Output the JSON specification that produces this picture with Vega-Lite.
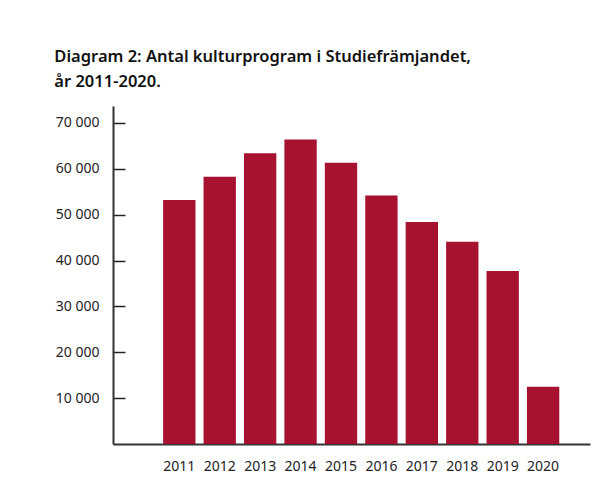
{
  "$schema": "https://vega.github.io/schema/vega-lite/v6.json",
  "width": 477,
  "height": 338,
  "padding": {"left": 54, "top": 48, "right": 23, "bottom": 10},
  "background": "white",
  "title": {
    "text": ["Diagram 2: Antal kulturprogram i Studiefrämjandet,", "år 2011-2020."],
    "anchor": "start",
    "frame": "bounds",
    "dx": -1,
    "font": "Noto Sans",
    "fontSize": 16.5,
    "fontWeight": 600,
    "color": "#111111",
    "lineHeight": 25,
    "offset": 16
  },
  "data": {
    "values": [
      {"year": "2011", "count": 53200},
      {"year": "2012", "count": 58300},
      {"year": "2013", "count": 63400},
      {"year": "2014", "count": 66400},
      {"year": "2015", "count": 61300},
      {"year": "2016", "count": 54200},
      {"year": "2017", "count": 48400},
      {"year": "2018", "count": 44100},
      {"year": "2019", "count": 37700},
      {"year": "2020", "count": 12500}
    ]
  },
  "mark": {"type": "bar", "color": "#A61230"},
  "encoding": {
    "x": {
      "field": "year",
      "type": "ordinal",
      "scale": {"paddingInner": 0.2, "paddingOuter": 1.08, "align": 0.62},
      "axis": {
        "title": null,
        "labelAngle": 0,
        "ticks": false,
        "labelPadding": 15,
        "labelFont": "Noto Sans",
        "labelFontSize": 14,
        "labelColor": "#222222",
        "domainColor": "#333333",
        "domainWidth": 2
      }
    },
    "y": {
      "field": "count",
      "type": "quantitative",
      "scale": {"domain": [0, 73700], "nice": false},
      "axis": {
        "title": null,
        "values": [10000, 20000, 30000, 40000, 50000, 60000, 70000],
        "labelExpr": "replace(format(datum.value, ','), ',', ' ')",
        "grid": false,
        "tickSize": -12,
        "tickWidth": 1.5,
        "tickColor": "#222222",
        "labelPadding": 26,
        "labelFont": "Noto Sans",
        "labelFontSize": 14,
        "labelColor": "#222222",
        "domainColor": "#333333",
        "domainWidth": 2
      }
    }
  },
  "config": {"view": {"stroke": null}}
}
